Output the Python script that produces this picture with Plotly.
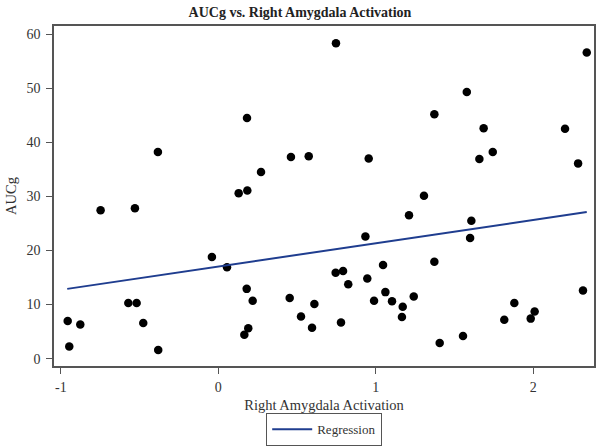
import plotly.graph_objects as go

# Data
x_vals = [-0.748, -0.530, -0.384, 0.182, 0.129, 0.184, 0.271, 0.461,
          0.747, 2.340, 1.578, 1.372, 1.685, 2.202, 0.574, 0.955, 1.743,
          1.658, 2.285, 1.306, 1.211,
          -0.041, 0.055, 0.180, 0.218, 0.453, -0.957, -0.947, -0.877,
          -0.572, -0.519, -0.477, -0.382, 0.165, 0.190, 0.525,
          0.595, 0.610, 0.745, 0.792, 0.779, 0.825, 0.934, 0.946, 0.989,
          1.046, 1.061, 1.103, 1.171, 1.166, 1.241, 1.372, 1.406, 1.554,
          1.607, 1.599, 1.816, 1.880, 1.984, 2.009, 2.316]
y_vals = [27.45, 27.8, 38.2, 44.5, 30.6, 31.1, 34.5, 37.3,
          58.3, 56.6, 49.3, 45.2, 42.6, 42.5, 37.4, 37.0, 38.2,
          36.9, 36.1, 30.1, 26.5,
          18.8, 16.9, 12.9, 10.7, 11.2, 6.95, 2.23, 6.3,
          10.3, 10.3, 6.6, 1.6, 4.4, 5.6, 7.8,
          5.7, 10.1, 15.9, 16.2, 6.7, 13.75, 22.6, 14.8, 10.7,
          17.3, 12.3, 10.6, 9.6, 7.7, 11.5, 17.9, 2.9, 4.2,
          25.5, 22.3, 7.2, 10.3, 7.4, 8.7, 12.6]

reg_x = [-0.96, 2.34]
reg_y = [12.9, 27.1]

x_ticks = [-1, 0, 1, 2]
x_tick_labels = ["-1", "0", "1", "2"]
y_ticks = [0, 10, 20, 30, 40, 50, 60]
y_tick_labels = ["0", "10", "20", "30", "40", "50", "60"]

font_family = "Liberation Serif, Times New Roman, serif"

fig = go.Figure()
fig.add_trace(go.Scatter(
    x=x_vals, y=y_vals, mode="markers",
    marker=dict(color="black", size=8.5),
    showlegend=False,
))
fig.add_trace(go.Scatter(
    x=reg_x, y=reg_y, mode="lines",
    line=dict(color="#1f3d8f", width=2),
    name="Regression",
))

axis_common = dict(
    showline=True, linecolor="#555555", linewidth=1.5, mirror=True,
    ticks="outside", ticklen=6, tickcolor="#555555", tickwidth=1.2,
    showgrid=False, zeroline=False,
    tickfont=dict(family=font_family, size=14, color="#333333"),
)

fig.update_layout(
    width=600, height=447,
    paper_bgcolor="white", plot_bgcolor="white",
    margin=dict(l=54, r=6, t=26, b=81, autoexpand=False),
    title=dict(text="<b>AUCg vs. Right Amygdala Activation</b>",
               x=0.5, xanchor="center", y=0.974, yanchor="middle",
               font=dict(family=font_family, size=14, color="#222222")),
    xaxis=dict(range=[-1.044, 2.386], tickvals=x_ticks, ticktext=x_tick_labels,
               ticklabelstandoff=1, automargin=True,
               title=dict(text="Right Amygdala Activation", standoff=13,
                          font=dict(family=font_family, size=14.5, color="#333333")),
               **axis_common),
    yaxis=dict(range=[-1.36, 61.5], tickvals=y_ticks, ticktext=y_tick_labels,
               ticklabelstandoff=3, automargin=False,
               title=dict(text="AUCg", standoff=6,
                          font=dict(family=font_family, size=14.5, color="#333333")),
               **axis_common),
    legend=dict(orientation="h", x=0.5, xanchor="center",
                y=0.039, yref="container", yanchor="middle",
                bordercolor="#555555", borderwidth=1.2,
                font=dict(family=font_family, size=13, color="#333333"),
                itemwidth=40),
)

fig.write_html("out.html", config={"displayModeBar": False},
               post_script="document.body.style.margin='0';")
